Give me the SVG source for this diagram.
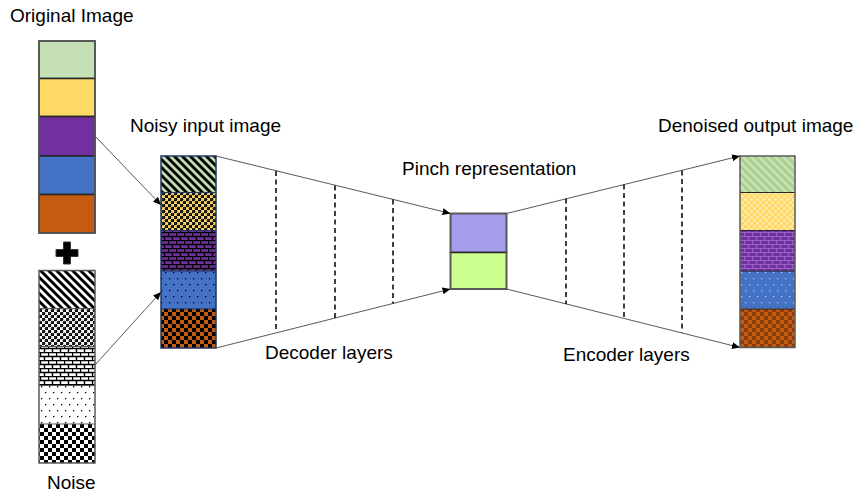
<svg xmlns="http://www.w3.org/2000/svg" width="854" height="494" viewBox="0 0 854 494">
<style>
  .lbl { font-family: "Liberation Sans", Arial, sans-serif; font-size: 19px; fill: #000; }
  .seg { stroke: #262626; stroke-width: 1.5; }
  .frame { fill: none; stroke: #595959; stroke-width: 1.5; }
  .conn { fill: none; stroke: #595959; stroke-width: 1; }
  .dash { fill: none; stroke: #000; stroke-width: 1.5; stroke-dasharray: 5 3.5; }
</style>
<defs>
  <marker id="arr" markerUnits="userSpaceOnUse" markerWidth="9" markerHeight="8" refX="8" refY="3.5" orient="auto">
    <path d="M0,0 L8,3.5 L0,7 z" fill="#000"/>
  </marker>
  <pattern id="stripeK" patternUnits="userSpaceOnUse" width="5.66" height="5.66" patternTransform="rotate(-45)">
    <rect x="0" y="0" width="2.9" height="5.66" fill="#000"/>
  </pattern>
  <pattern id="stripeL" patternUnits="userSpaceOnUse" width="5.66" height="5.66" patternTransform="rotate(-45)">
    <rect x="0" y="0" width="2.6" height="5.66" fill="#C9E3B9"/>
  </pattern>
  <pattern id="sphK" patternUnits="userSpaceOnUse" width="6" height="6">
    <circle cx="1.5" cy="1.5" r="1.8" fill="#000"/>
    <circle cx="4.5" cy="4.5" r="1.8" fill="#000"/>
    <circle cx="1.1" cy="1.1" r="0.6" fill="#777"/>
    <circle cx="4.1" cy="4.1" r="0.6" fill="#777"/>
  </pattern>
  <pattern id="sphL" patternUnits="userSpaceOnUse" width="6" height="6">
    <circle cx="1.5" cy="1.5" r="1.6" fill="#FFE9A3"/>
    <circle cx="4.5" cy="4.5" r="1.6" fill="#FFE9A3"/>
  </pattern>
  <pattern id="brickK" patternUnits="userSpaceOnUse" width="8" height="8">
    <path d="M0,0.5 H8 M0,4.5 H8 M0.5,0.5 V4.5 M4.5,4.5 V8.5" stroke="#000" stroke-width="1.4" fill="none"/>
  </pattern>
  <pattern id="brickL" patternUnits="userSpaceOnUse" width="8" height="8">
    <path d="M0,0.5 H8 M0,4.5 H8 M0.5,0.5 V4.5 M4.5,4.5 V8.5" stroke="#9A60C6" stroke-width="1.2" fill="none"/>
  </pattern>
  <pattern id="dotK" patternUnits="userSpaceOnUse" width="8" height="12">
    <rect x="1" y="2" width="1.3" height="1.3" fill="#000"/>
    <rect x="5" y="8" width="1.3" height="1.3" fill="#000"/>
  </pattern>
  <pattern id="dotL" patternUnits="userSpaceOnUse" width="8" height="12">
    <rect x="1" y="2" width="1.3" height="1.3" fill="#A9C1EA"/>
    <rect x="5" y="8" width="1.3" height="1.3" fill="#A9C1EA"/>
  </pattern>
  <pattern id="chkK" patternUnits="userSpaceOnUse" width="8" height="8">
    <rect x="0" y="0" width="4" height="4" fill="#000"/>
    <rect x="4" y="4" width="4" height="4" fill="#000"/>
  </pattern>
  <pattern id="chkL" patternUnits="userSpaceOnUse" width="8" height="8">
    <rect x="0" y="0" width="4" height="4" fill="#8A3E0C"/>
    <rect x="4" y="4" width="4" height="4" fill="#8A3E0C"/>
  </pattern>
</defs>

<rect width="854" height="494" fill="#fff"/>

<g id="original-image">
  <rect class="seg" x="39" y="41" width="56" height="37.5" fill="#C5E0B4"/>
  <rect class="seg" x="39" y="78.5" width="56" height="38" fill="#FFD966"/>
  <rect class="seg" x="39" y="116.5" width="56" height="39.5" fill="#7030A0"/>
  <rect class="seg" x="39" y="156" width="56" height="38.5" fill="#4472C4"/>
  <rect class="seg" x="39" y="194.5" width="56" height="38.5" fill="#C55A11"/>
  <rect class="frame" x="39" y="41" width="56" height="192"/>
</g>

<g id="plus">
  <path d="M63.5,242 H70.5 V249.5 H78 V256.5 H70.5 V264 H63.5 V256.5 H56 V249.5 H63.5 Z" fill="#000" stroke="#333" stroke-width="1"/>
</g>

<g id="noise">
  <rect x="39" y="270.5" width="56" height="38" fill="#fff"/>
  <rect x="39" y="270.5" width="56" height="38" fill="url(#stripeK)"/>
  <rect x="39" y="308.5" width="56" height="38" fill="#fff"/>
  <rect x="39" y="308.5" width="56" height="38" fill="url(#sphK)"/>
  <rect x="39" y="346.5" width="56" height="39" fill="#fff"/>
  <rect x="39" y="346.5" width="56" height="39" fill="url(#brickK)"/>
  <rect x="39" y="385.5" width="56" height="38.5" fill="#fff"/>
  <rect x="39" y="385.5" width="56" height="38.5" fill="url(#dotK)"/>
  <rect x="39" y="424" width="56" height="39" fill="#fff"/>
  <rect x="39" y="424" width="56" height="39" fill="url(#chkK)"/>
  <path d="M39,308.5 H95 M39,346.5 H95 M39,385.5 H95 M39,424 H95" stroke="#595959" stroke-width="1"/>
  <rect class="frame" x="39" y="270.5" width="56" height="192.5"/>
</g>

<g id="noisy-input">
  <rect x="161" y="156" width="55" height="36.5" fill="#C5E0B4"/>
  <rect x="161" y="156" width="55" height="36.5" fill="url(#stripeK)"/>
  <rect x="161" y="192.5" width="55" height="38" fill="#FFD966"/>
  <rect x="161" y="192.5" width="55" height="38" fill="url(#sphK)"/>
  <rect x="161" y="230.5" width="55" height="40.5" fill="#7030A0"/>
  <rect x="161" y="230.5" width="55" height="40.5" fill="url(#brickK)"/>
  <rect x="161" y="271" width="55" height="38" fill="#4472C4"/>
  <rect x="161" y="271" width="55" height="38" fill="url(#dotK)"/>
  <rect x="161" y="309" width="55" height="39" fill="#C55A11"/>
  <rect x="161" y="309" width="55" height="39" fill="url(#chkK)"/>
  <path d="M161,192.5 H216 M161,230.5 H216 M161,271 H216 M161,309 H216" stroke="#1F3864" stroke-width="1.2"/>
  <rect x="161" y="156" width="55" height="192" fill="none" stroke="#1F3864" stroke-width="1.5"/>
</g>

<g id="pinch">
  <rect class="seg" x="450.5" y="213.5" width="56" height="39" fill="#A59CEB"/>
  <rect class="seg" x="450.5" y="252.5" width="56" height="36.5" fill="#CCFF8E"/>
  <rect class="frame" x="450.5" y="213.5" width="56" height="75.5" stroke="#333"/>
</g>

<g id="denoised-output">
  <rect x="740" y="156" width="55" height="36.5" fill="#A9D18E"/>
  <rect x="740" y="156" width="55" height="36.5" fill="url(#stripeL)"/>
  <rect x="740" y="192.5" width="55" height="38" fill="#FFD966"/>
  <rect x="740" y="192.5" width="55" height="38" fill="url(#sphL)"/>
  <rect x="740" y="230.5" width="55" height="40.5" fill="#7030A0"/>
  <rect x="740" y="230.5" width="55" height="40.5" fill="url(#brickL)"/>
  <rect x="740" y="271" width="55" height="38" fill="#4472C4"/>
  <rect x="740" y="271" width="55" height="38" fill="url(#dotL)"/>
  <rect x="740" y="309" width="55" height="38.5" fill="#C55A11"/>
  <rect x="740" y="309" width="55" height="38.5" fill="url(#chkL)"/>
  <path d="M740,192.5 H795 M740,230.5 H795 M740,271 H795 M740,309 H795" stroke="#262626" stroke-width="1.2"/>
  <rect class="frame" x="740" y="156" width="55" height="191.5"/>
</g>

<g id="connectors">
  <line class="conn" x1="95" y1="136" x2="161" y2="205" marker-end="url(#arr)"/>
  <line class="conn" x1="95" y1="365" x2="161" y2="292" marker-end="url(#arr)"/>
  <line class="conn" x1="216" y1="156" x2="450.5" y2="213.5" marker-end="url(#arr)"/>
  <line class="conn" x1="216" y1="348" x2="450.5" y2="289" marker-end="url(#arr)"/>
  <line class="conn" x1="506.5" y1="213.5" x2="740" y2="156" marker-end="url(#arr)"/>
  <line class="conn" x1="506.5" y1="289" x2="740" y2="347.5" marker-end="url(#arr)"/>
</g>

<g id="layers">
  <line class="dash" x1="276" y1="171" x2="276" y2="332.5"/>
  <line class="dash" x1="335" y1="185.5" x2="335" y2="318"/>
  <line class="dash" x1="393" y1="199.5" x2="393" y2="303.5"/>
  <line class="dash" x1="566" y1="198.5" x2="566" y2="304"/>
  <line class="dash" x1="624" y1="184.5" x2="624" y2="318"/>
  <line class="dash" x1="682" y1="170.5" x2="682" y2="332.5"/>
</g>

<g id="labels">
  <text class="lbl" x="10" y="22">Original Image</text>
  <text class="lbl" x="130" y="132">Noisy input image</text>
  <text class="lbl" x="402" y="175">Pinch representation</text>
  <text class="lbl" x="658" y="132">Denoised output image</text>
  <text class="lbl" x="265" y="359">Decoder layers</text>
  <text class="lbl" x="563" y="361">Encoder layers</text>
  <text class="lbl" x="47" y="489">Noise</text>
</g>
</svg>
